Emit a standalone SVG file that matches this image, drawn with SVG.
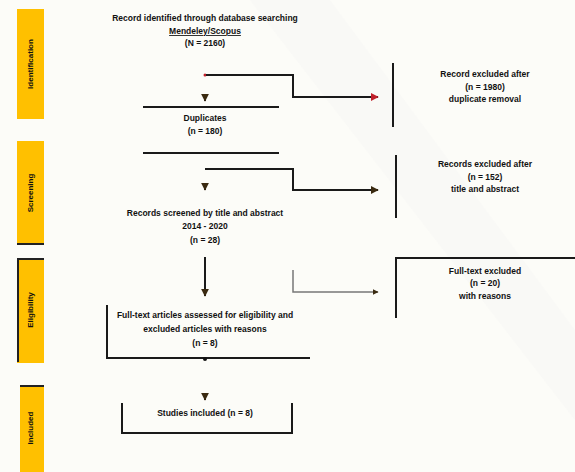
<svg xmlns="http://www.w3.org/2000/svg" width="575" height="472" viewBox="0 0 575 472">
  <defs>
    <marker id="arr" viewBox="0 0 10 10" refX="9" refY="5" markerWidth="4" markerHeight="4" orient="auto">
      <path d="M0,0 L10,5 L0,10 z" fill="#3a2a10"/>
    </marker>
    <marker id="arrRed" viewBox="0 0 10 10" refX="9" refY="5" markerWidth="4" markerHeight="4" orient="auto">
      <path d="M0,0 L10,5 L0,10 z" fill="#c0202a"/>
    </marker>
    <style>
      .bar { fill: #ffc000; }
      .edge { stroke: #222; stroke-width: 2; fill: none; }
      .ln { stroke: #1a1a1a; stroke-width: 2; fill: none; }
      .lt { stroke: #777; stroke-width: 1.5; fill: none; }
      .t { font-family: "Liberation Sans", Arial, sans-serif; font-size: 8.5px; font-weight: bold; fill: #111; text-anchor: middle; }
      .v { font-family: "Liberation Sans", Arial, sans-serif; font-size: 8px; font-weight: bold; fill: #111; text-anchor: middle; }
    </style>
  </defs>

  <!-- page background with faint diagonal band -->
  <rect width="575" height="472" fill="#fcfcf8"/>
  <path d="M250,0 L330,0 L575,330 L575,420 Z" fill="#f3f3f3" opacity="0.35"/>

  <!-- phase labels -->
  <g id="phase-identification">
    <rect class="bar" x="17" y="9" width="27" height="110"/>
    <text class="v" transform="translate(33,64) rotate(-90)">Identification</text>
  </g>
  <g id="phase-screening">
    <rect class="bar" x="17" y="141" width="27" height="104"/>
    <line class="edge" x1="17" y1="244" x2="44" y2="244"/>
    <text class="v" transform="translate(33,193) rotate(-90)">Screening</text>
  </g>
  <g id="phase-eligibility">
    <rect class="bar" x="17" y="258" width="27" height="105"/>
    <path class="edge" d="M44,259 L18,259 L18,362"/>
    <text class="v" transform="translate(33,310) rotate(-90)">Eligibility</text>
  </g>
  <g id="phase-included">
    <rect class="bar" x="20" y="385" width="24" height="87"/>
    <line class="edge" x1="20" y1="386" x2="44" y2="386"/>
    <text class="v" transform="translate(33,428) rotate(-90)">Included</text>
  </g>

  <!-- nodes -->
  <g id="records-identified">
    <text class="t" x="205" y="21">Record identified through database searching</text>
    <text class="t" x="205" y="34" text-decoration="underline">Mendeley/Scopus</text>
    <text class="t" x="205" y="46">(N = 2160)</text>
  </g>
  <g id="after-duplicates">
    <line class="ln" x1="143" y1="107" x2="279" y2="107"/>
    <text class="t" x="205" y="121">Duplicates</text>
    <text class="t" x="205" y="134">(n = 180)</text>
    <line class="ln" x1="143" y1="153" x2="279" y2="153"/>
  </g>
  <g id="excluded-1">
    <line class="ln" x1="393" y1="63" x2="393" y2="127"/>
    <text class="t" x="485" y="77">Record excluded after</text>
    <text class="t" x="485" y="90">(n = 1980)</text>
    <text class="t" x="485" y="102">duplicate removal</text>
  </g>
  <g id="records-screened">
    <text class="t" x="205" y="216">Records screened by title and abstract</text>
    <text class="t" x="205" y="229">2014 - 2020</text>
    <text class="t" x="205" y="243">(n = 28)</text>
  </g>
  <g id="excluded-2">
    <line class="ln" x1="396" y1="155" x2="396" y2="218"/>
    <text class="t" x="485" y="167">Records excluded after</text>
    <text class="t" x="485" y="180">(n = 152)</text>
    <text class="t" x="485" y="192">title and abstract</text>
  </g>
  <g id="eligibility-assessed">
    <path class="ln" d="M107,305 L107,358 L310,358"/>
    <text class="t" x="205" y="318">Full-text articles assessed for eligibility and</text>
    <text class="t" x="205" y="332">excluded articles with reasons</text>
    <text class="t" x="205" y="346">(n = 8)</text>
  </g>
  <g id="excluded-3">
    <path class="ln" d="M575,258 L396,258 L396,318"/>
    <text class="t" x="485" y="274">Full-text excluded</text>
    <text class="t" x="485" y="286">(n = 20)</text>
    <text class="t" x="485" y="299">with reasons</text>
  </g>
  <g id="studies-included">
    <path class="ln" d="M122,403 L122,433 L292,433 L292,403"/>
    <text class="t" x="205" y="416">Studies included (n = 8)</text>
  </g>

  <!-- connectors -->
  <g id="connectors">
    <circle cx="205" cy="75" r="1.5" fill="#c0202a"/>
    <path class="ln" d="M206,75 L293,75 L293,97 L378,97" marker-end="url(#arrRed)"/>
    <line class="ln" x1="205" y1="94" x2="205" y2="101" marker-end="url(#arr)"/>
    <path class="ln" d="M205,169 L293,169 L293,190 L378,190" marker-end="url(#arr)"/>
    <line class="ln" x1="205" y1="183" x2="205" y2="190" marker-end="url(#arr)"/>
    <line class="ln" x1="205" y1="257" x2="205" y2="296" marker-end="url(#arr)"/>
    <path class="lt" d="M293,270 L293,292 L378,292" marker-end="url(#arr)"/>
    <circle cx="205" cy="359" r="2" fill="#111"/>
    <line class="ln" x1="205" y1="394" x2="205" y2="400" marker-end="url(#arr)"/>
  </g>
</svg>
